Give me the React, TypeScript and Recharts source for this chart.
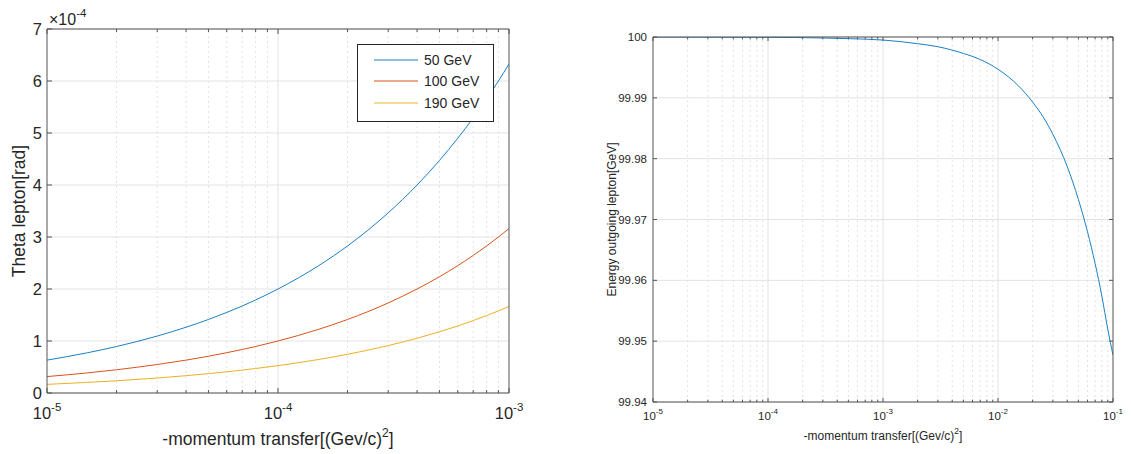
import React from 'react';
import { LineChart, Line, XAxis, YAxis, CartesianGrid, ReferenceLine, Legend, Label } from 'recharts';

// ---------- Left chart data ----------
const leftQ2 = [1e-5, 1.5e-5, 2e-5, 3e-5, 4e-5, 5e-5, 6e-5, 7e-5, 8e-5, 1e-4, 1.5e-4, 2e-4, 3e-4, 4e-4, 5e-4, 6e-4, 7e-4, 8e-4, 9e-4, 1e-3];
// theta values in units of 1e-4 rad (axis shows x10^-4)
const theta50 = [0.632, 0.775, 0.894, 1.095, 1.265, 1.414, 1.549, 1.673, 1.789, 2.0, 2.449, 2.828, 3.464, 4.0, 4.472, 4.899, 5.292, 5.657, 6.0, 6.325];
const theta100 = [0.316, 0.387, 0.447, 0.548, 0.632, 0.707, 0.775, 0.837, 0.894, 1.0, 1.225, 1.414, 1.732, 2.0, 2.236, 2.449, 2.646, 2.828, 3.0, 3.162];
const theta190 = [0.166, 0.204, 0.235, 0.288, 0.333, 0.372, 0.408, 0.44, 0.471, 0.526, 0.645, 0.744, 0.912, 1.053, 1.177, 1.289, 1.393, 1.489, 1.579, 1.664];
const seriesNames = ['50 GeV', '100 GeV', '190 GeV'];
const leftMajorTicks = [1e-5, 1e-4, 1e-3];
const leftMajorExps = ['-5', '-4', '-3'];
const leftMinorTicks = [2e-5, 3e-5, 4e-5, 5e-5, 6e-5, 7e-5, 8e-5, 9e-5, 2e-4, 3e-4, 4e-4, 5e-4, 6e-4, 7e-4, 8e-4, 9e-4];
const leftYTicks = [0, 1, 2, 3, 4, 5, 6, 7];

// ---------- Right chart data ----------
const rightQ2 = [1e-5, 1e-4, 3e-4, 5e-4, 1e-3, 2e-3, 3e-3, 5e-3, 7e-3, 1e-2, 1.5e-2, 2e-2, 2.5e-2, 3e-2, 4e-2, 5e-2, 6e-2, 7e-2, 8e-2, 9e-2, 1e-1];
const energyOut = [100.0, 99.99995, 99.99984, 99.99973, 99.9995, 99.9989, 99.9984, 99.9973, 99.9963, 99.9947, 99.9920, 99.9893, 99.9867, 99.9840, 99.9787, 99.9733, 99.9680, 99.9627, 99.9574, 99.9520, 99.9477];
const rightMajorTicks = [1e-5, 1e-4, 1e-3, 1e-2, 1e-1];
const rightMajorExps = ['-5', '-4', '-3', '-2', '-1'];
const rightMinorTicks = [
  2e-5, 3e-5, 4e-5, 5e-5, 6e-5, 7e-5, 8e-5, 9e-5,
  2e-4, 3e-4, 4e-4, 5e-4, 6e-4, 7e-4, 8e-4, 9e-4,
  2e-3, 3e-3, 4e-3, 5e-3, 6e-3, 7e-3, 8e-3, 9e-3,
  2e-2, 3e-2, 4e-2, 5e-2, 6e-2, 7e-2, 8e-2, 9e-2,
];
const rightYTicks = [99.94, 99.95, 99.96, 99.97, 99.98, 99.99, 100];
const rightYTickLabels = ['99.94', '99.95', '99.96', '99.97', '99.98', '99.99', '100'];

const COLORS = ['#1a80c4', '#D95319', '#EDB120'];
const AXIS = '#555555';
const TEXT = '#262626';
const GRID = '#e3e3e3';
const FONT = '"Liberation Sans", Arial, Helvetica, sans-serif';

const leftData = leftQ2.map((q, i) => ({ q, a: theta50[i], b: theta100[i], c: theta190[i] }));
const rightData = rightQ2.map((q, i) => ({ q, e: energyOut[i] }));

const isIn = (arr: number[], v: number) => arr.findIndex((m) => Math.abs(m - v) / Math.abs(m || 1) < 1e-6);

const makeBottomTick = (majors: number[], exps: string[], fs: number, sup: number, dy: number, supDy: number, len: number) => (props: any) => {
  const { x, y, payload } = props;
  const idx = isIn(majors, payload.value);
  const major = idx >= 0;
  return (
    <g>
      <line x1={x} x2={x} y1={y} y2={y - (major ? len : len * 0.6)} stroke={AXIS} strokeWidth={1} />
      {major && (
        <text x={x} y={y + dy} textAnchor="middle" fontSize={fs} fill={TEXT} fontFamily={FONT}>
          10<tspan dy={supDy} fontSize={sup}>{exps[idx]}</tspan>
        </text>
      )}
    </g>
  );
};

const makeTopTick = (majors: number[], len: number) => (props: any) => {
  const { x, y, payload } = props;
  const major = isIn(majors, payload.value) >= 0;
  return <line x1={x} x2={x} y1={y} y2={y + (major ? len : len * 0.6)} stroke={AXIS} strokeWidth={1} />;
};

const makeLeftTick = (labels: string[] | null, ticks: number[], fs: number, len: number, gap: number) => (props: any) => {
  const { x, y, payload } = props;
  const idx = isIn(ticks, payload.value);
  const label = labels ? labels[idx] : String(payload.value);
  return (
    <g>
      <line x1={x} x2={x + len} y1={y} y2={y} stroke={AXIS} strokeWidth={1} />
      <text x={x - gap} y={y} dy="0.35em" textAnchor="end" fontSize={fs} fill={TEXT} fontFamily={FONT}>{label}</text>
    </g>
  );
};

const makeRightTick = (len: number) => (props: any) => {
  const { x, y } = props;
  return <line x1={x - len} x2={x} y1={y} y2={y} stroke={AXIS} strokeWidth={1} />;
};

const LeftLegend = () => (
  <div style={{ border: `1px solid ${TEXT}`, background: '#fff', width: 135, height: 72, boxSizing: 'content-box', fontFamily: FONT, fontSize: 14, color: TEXT, paddingTop: 4 }}>
    {seriesNames.map((n, i) => (
      <div key={n} style={{ display: 'flex', alignItems: 'center', height: 21.5 }}>
        <svg width={60} height={4} style={{ display: 'block' }}>
          <line x1={16} x2={60} y1={2} y2={2} stroke={COLORS[i]} strokeWidth={1} />
        </svg>
        <span style={{ marginLeft: 6 }}>{n}</span>
      </div>
    ))}
  </div>
);

const LeftYLabel = (p: any) => {
  const vb = p.viewBox;
  const cy = vb.y + vb.height / 2;
  return (
    <g>
      <text x={19} y={cy} transform={`rotate(-90, 19, ${cy})`} textAnchor="middle" dy="0.35em" fontSize={17.5} fill={TEXT} fontFamily={FONT}>Theta lepton[rad]</text>
      <text x={vb.x + vb.width + 2} y={vb.y - 4} fontSize={16} fill={TEXT} fontFamily={FONT}>×10<tspan dy={-8} fontSize={11.5}>-4</tspan></text>
    </g>
  );
};

const makeXLabel = (fs: number, sup: number, dy: number, supDy: number) => (p: any) => {
  const vb = p.viewBox;
  const cx = vb.x + vb.width / 2;
  return (
    <text x={cx} y={vb.y + dy} textAnchor="middle" fontSize={fs} fill={TEXT} fontFamily={FONT}>
      -momentum transfer[(Gev/c)<tspan dy={supDy} fontSize={sup}>2</tspan><tspan dy={-supDy}>]</tspan>
    </text>
  );
};

const RightYLabel = (p: any) => {
  const vb = p.viewBox;
  const cy = vb.y + vb.height / 2;
  const x = 42;
  return (
    <text x={x} y={cy} transform={`rotate(-90, ${x}, ${cy})`} textAnchor="middle" dy="0.35em" fontSize={12} fill={TEXT} fontFamily={FONT}>Energy outgoing lepton[GeV]</text>
  );
};

export default function App() {
  const leftAllTicks = [...leftMajorTicks, ...leftMinorTicks].sort((a, b) => a - b);
  const rightAllTicks = [...rightMajorTicks, ...rightMinorTicks].sort((a, b) => a - b);
  return (
    <div style={{ position: 'absolute', left: 0, top: 0, width: 1131, height: 454, background: '#fff' }}>
      <div style={{ position: 'absolute', left: 0, top: 0 }}>
        <LineChart width={570} height={454} data={leftData} margin={{ top: 28, left: 46, right: 60, bottom: 60 }}>
          <CartesianGrid vertical={false} stroke={GRID} />
          {leftMinorTicks.map((v) => (
            <ReferenceLine key={'lm' + v} x={v} stroke={GRID} strokeDasharray="2 3" />
          ))}
          <ReferenceLine x={1e-4} stroke={GRID} />
          <XAxis dataKey="q" type="number" scale="log" domain={[1e-5, 1e-3]} allowDataOverflow ticks={leftAllTicks} interval={0}
            height={1} tickSize={0} tickMargin={0} stroke={AXIS} tick={makeBottomTick(leftMajorTicks, leftMajorExps, 16.5, 11.5, 26, -8, 5)}>
            <Label content={makeXLabel(17.5, 12, 52, -8)} />
          </XAxis>
          <XAxis xAxisId="top" orientation="top" dataKey="q" type="number" scale="log" domain={[1e-5, 1e-3]} allowDataOverflow ticks={leftAllTicks} interval={0}
            height={1} tickSize={0} tickMargin={0} stroke={AXIS} tick={makeTopTick(leftMajorTicks, 5)} />
          <YAxis type="number" domain={[0, 7]} ticks={leftYTicks} interval={0} width={1} tickSize={0} tickMargin={0} stroke={AXIS}
            tick={makeLeftTick(null, leftYTicks, 16.5, 5, 5)}>
            <Label content={LeftYLabel} />
          </YAxis>
          <YAxis yAxisId="right" orientation="right" type="number" domain={[0, 7]} ticks={leftYTicks} interval={0} width={1} tickSize={0} tickMargin={0} stroke={AXIS}
            tick={makeRightTick(5)} />
          <Line dataKey="a" name={seriesNames[0]} stroke={COLORS[0]} strokeWidth={1} dot={false} type="monotone" isAnimationActive={false} />
          <Line dataKey="b" name={seriesNames[1]} stroke={COLORS[1]} strokeWidth={1} dot={false} type="monotone" isAnimationActive={false} />
          <Line dataKey="c" name={seriesNames[2]} stroke={COLORS[2]} strokeWidth={1} dot={false} type="monotone" isAnimationActive={false} />
          <Legend layout="vertical" align="center" verticalAlign="middle" wrapperStyle={{ left: 357, top: 44, width: 137, height: 78 }} content={() => <LeftLegend />} />
        </LineChart>
      </div>
      <div style={{ position: 'absolute', left: 570, top: 0 }}>
        <LineChart width={561} height={454} data={rightData} margin={{ top: 36, left: 82, right: 17, bottom: 51 }}>
          <CartesianGrid vertical={false} stroke={GRID} />
          {rightMinorTicks.map((v) => (
            <ReferenceLine key={'rm' + v} x={v} stroke={GRID} strokeDasharray="2 3" />
          ))}
          {[1e-4, 1e-3, 1e-2].map((v) => (
            <ReferenceLine key={'rM' + v} x={v} stroke={GRID} />
          ))}
          <XAxis dataKey="q" type="number" scale="log" domain={[1e-5, 1e-1]} allowDataOverflow ticks={rightAllTicks} interval={0}
            height={1} tickSize={0} tickMargin={0} stroke={AXIS} tick={makeBottomTick(rightMajorTicks, rightMajorExps, 11.5, 8, 18, -6, 4)}>
            <Label content={makeXLabel(12, 8.5, 38, -6)} />
          </XAxis>
          <XAxis xAxisId="top" orientation="top" dataKey="q" type="number" scale="log" domain={[1e-5, 1e-1]} allowDataOverflow ticks={rightAllTicks} interval={0}
            height={1} tickSize={0} tickMargin={0} stroke={AXIS} tick={makeTopTick(rightMajorTicks, 4)} />
          <YAxis type="number" domain={[99.94, 100]} allowDataOverflow ticks={rightYTicks} interval={0} width={1} tickSize={0} tickMargin={0} stroke={AXIS}
            tick={makeLeftTick(rightYTickLabels, rightYTicks, 11.5, 4, 6)}>
            <Label content={RightYLabel} />
          </YAxis>
          <YAxis yAxisId="right" orientation="right" type="number" domain={[99.94, 100]} allowDataOverflow ticks={rightYTicks} interval={0} width={1} tickSize={0} tickMargin={0} stroke={AXIS}
            tick={makeRightTick(4)} />
          <Line dataKey="e" stroke={COLORS[0]} strokeWidth={1} dot={false} type="monotone" isAnimationActive={false} />
        </LineChart>
      </div>
    </div>
  );
}
